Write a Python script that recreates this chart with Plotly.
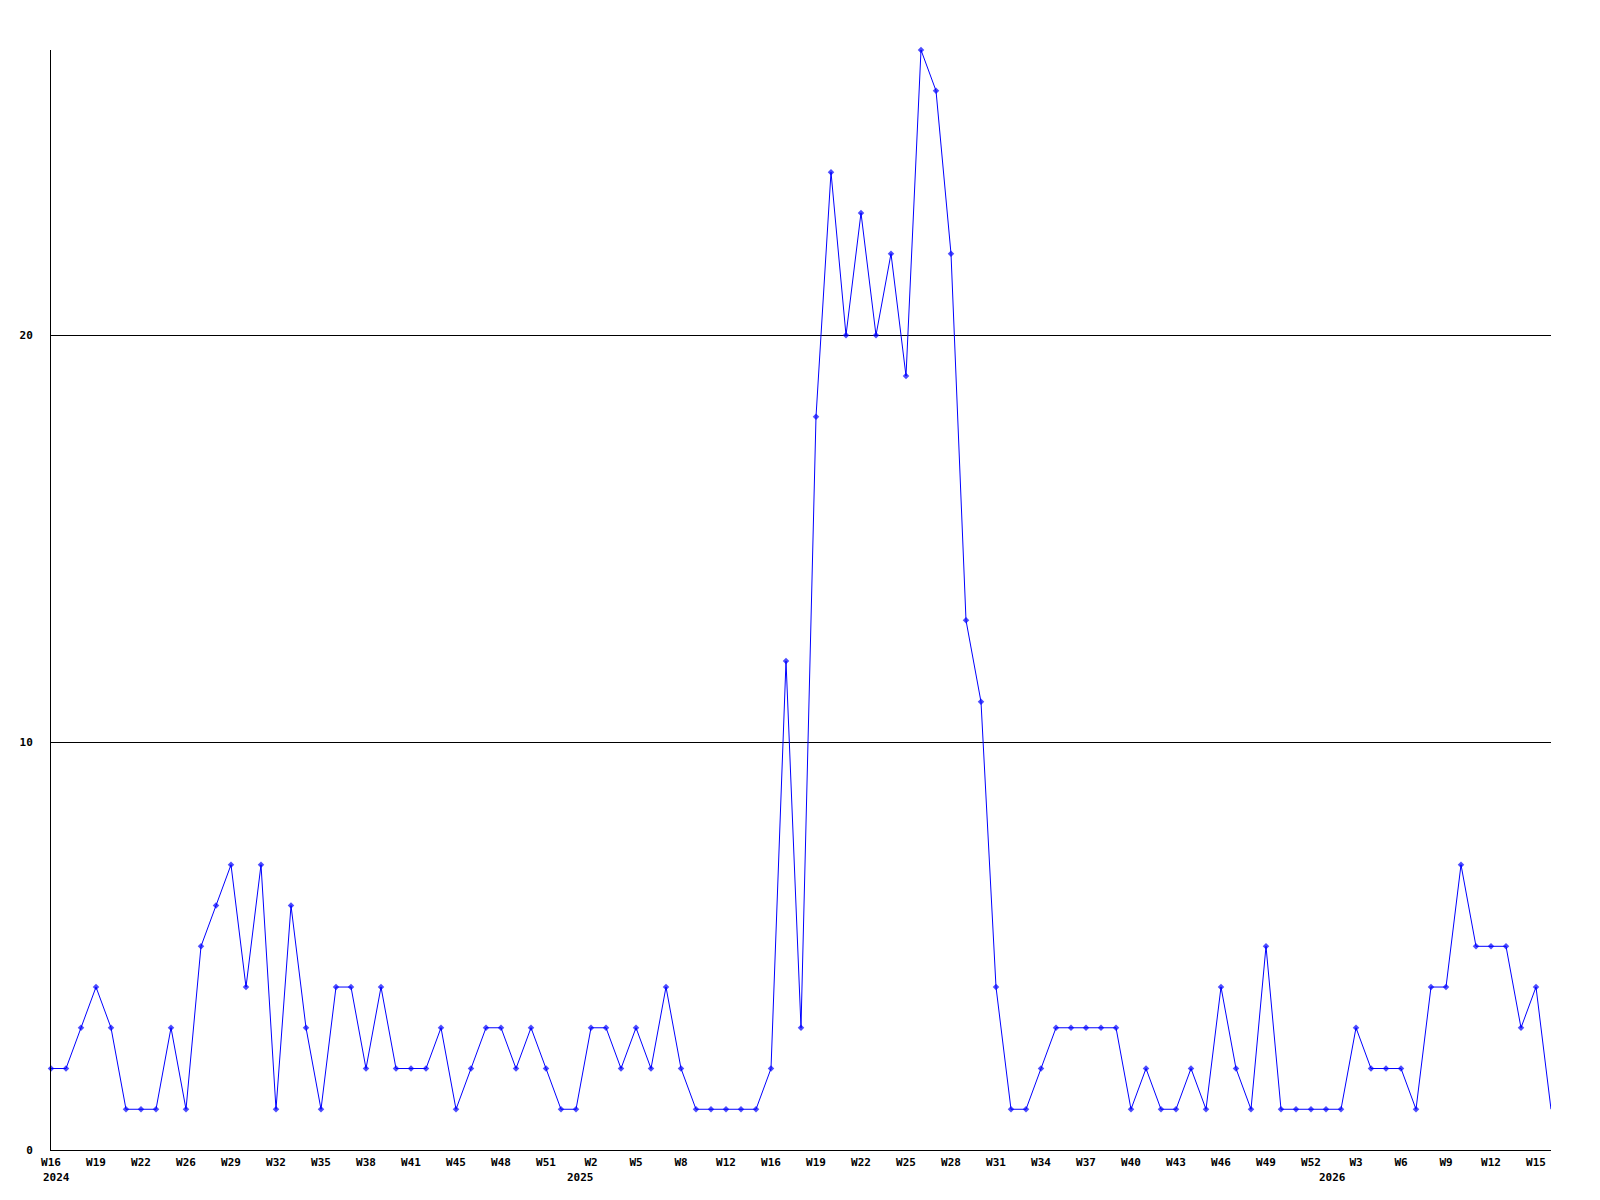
import plotly.graph_objects as go

values = [2, 2, 3, 4, 3, 1, 1, 1, 3, 1,
          5, 6, 7, 4, 7, 1, 6, 3, 1, 4,
          4, 2, 4, 2, 2, 2, 3, 1, 2, 3,
          3, 2, 3, 2, 1, 1, 3, 3, 2, 3,
          2, 4, 2, 1, 1, 1, 1, 1, 2, 12,
          3, 18, 24, 20, 23, 20, 22, 19, 27, 26,
          22, 13, 11, 4, 1, 1, 2, 3, 3, 3,
          3, 3, 1, 2, 1, 1, 2, 1, 4, 2,
          1, 5, 1, 1, 1, 1, 1, 3, 2, 2,
          2, 1, 4, 4, 7, 5, 5, 5, 3, 4,
          1]

week_labels = ["W16", "W19", "W22", "W26", "W29", "W32", "W35", "W38", "W41",
               "W45", "W48", "W51", "W2", "W5", "W8", "W12", "W16", "W19",
               "W22", "W25", "W28", "W31", "W34", "W37", "W40", "W43", "W46",
               "W49", "W52", "W3", "W6", "W9", "W12", "W15"]
tick_step = 3
year_labels = ["2024", "2025", "2026"]
year_pos = [0, 35 + 2 / 7, 85 + 3 / 7]

y_ticks = [0, 10, 20]

x = list(range(len(values)))
tickvals = [i * tick_step for i in range(len(week_labels))]

font = dict(family="DejaVu Sans Mono", size=11, color="black")

fig = go.Figure()
fig.add_trace(go.Scatter(
    x=x, y=values, mode="lines+markers",
    line=dict(color="#0000ff", width=1),
    marker=dict(symbol="diamond", size=[5] * (len(values) - 1) + [0],
                color="#0000ff", line=dict(width=0)),
    cliponaxis=False, showlegend=False,
))

for i, (lab, xp) in enumerate(zip(year_labels, year_pos)):
    fig.add_annotation(
        x=xp, xref="x", y=-27 / 1100, yref="paper", text="<b>%s</b>" % lab,
        showarrow=False, font=font,
        xanchor="left" if i == 0 else "center", yanchor="middle",
        xshift=-10 if i == 0 else 0,
    )

fig.update_layout(
    width=1592, height=1192,
    margin=dict(l=43, r=49, t=42, b=50),
    plot_bgcolor="white", paper_bgcolor="white",
    font=font,
)
fig.update_xaxes(
    range=[0, len(values) - 1], tickvals=tickvals,
    ticktext=["<b>%s</b>" % t for t in week_labels],
    showgrid=False, zeroline=False, showline=True, linecolor="black",
    linewidth=1, ticks="", ticklabelstandoff=2, tickfont=font,
)
fig.update_yaxes(
    range=[0, 27], tickvals=y_ticks,
    ticktext=["<b>%d</b>" % v for v in y_ticks],
    showgrid=True, gridcolor="black", gridwidth=1,
    zeroline=False, showline=True, linecolor="black", linewidth=1,
    ticks="", ticklabelstandoff=15, tickfont=font,
)

fig.write_html("out.html")
